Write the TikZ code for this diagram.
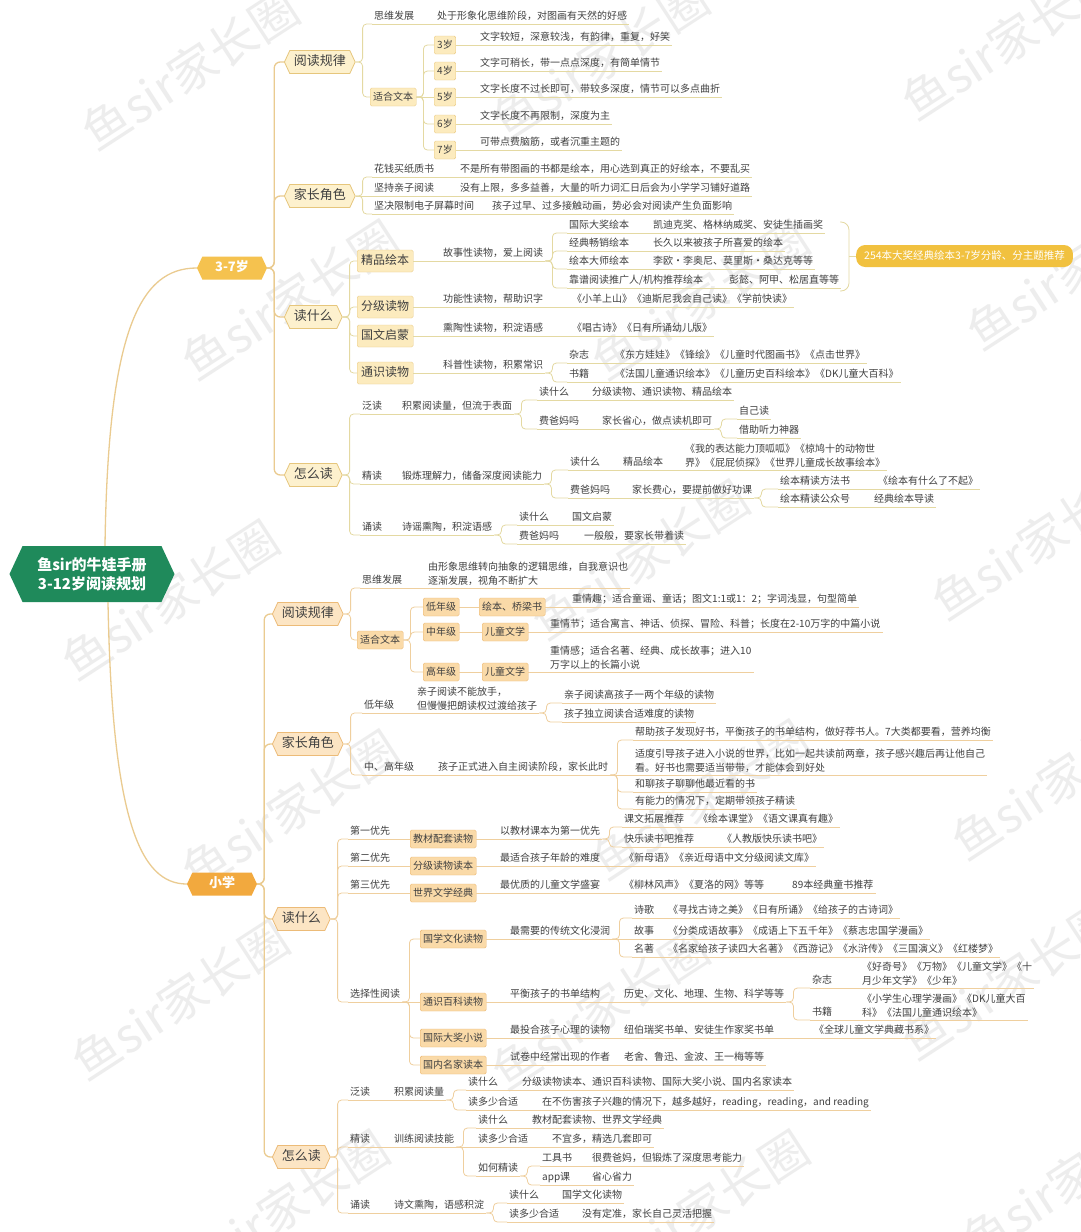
\documentclass[tikz,border=0pt]{standalone}
\usepackage{fontspec}
\newfontfamily\cjk{Noto Sans CJK SC}
\usetikzlibrary{positioning,shapes.symbols}

\definecolor{txt}{HTML}{404040}
\definecolor{rootfill}{HTML}{1F8A5B}
\definecolor{onefill}{HTML}{F5C24F}
\definecolor{xxfill}{HTML}{F2A93E}
\definecolor{summfill}{HTML}{F1C13F}
\definecolor{twofill}{HTML}{FDF1CE}
\definecolor{twoedge}{HTML}{E6C67C}
\definecolor{twofillb}{HTML}{FCE5C4}
\definecolor{twoedgeb}{HTML}{ECBB78}
\definecolor{boxfill}{HTML}{FCEBBE}
\definecolor{boxedge}{HTML}{E9C982}
\definecolor{boxfillb}{HTML}{FADAA8}
\definecolor{boxedgeb}{HTML}{EBB56C}
\definecolor{linetop}{HTML}{E4D9A2}
\definecolor{linebot}{HTML}{EFCF9E}
\definecolor{mainline}{HTML}{EACB90}
\colorlet{lc}{linetop}

\newcommand{\lk}[2]{\draw[branch] (#1) -- ++(7,0) |- (#2);}
\newcommand{\st}[2]{\draw[branch] (#1) -- (#2);}

\begin{document}
\begin{tikzpicture}[
	x=1pt, y=-1pt,
	every node/.style={font=\cjk\fontsize{10}{12}\selectfont, text=txt},
	uline/.style={draw=lc, line width=0.8pt},
	branch/.style={draw=lc, line width=0.8pt, rounded corners=4pt},
	trunk/.style={draw=mainline, line width=1.3pt, rounded corners=6pt},
	leaf/.style={anchor=south west, inner xsep=2pt, inner ysep=2pt, text height=8pt, text depth=2pt,
		append after command={(\tikzlastnode.south west) edge[uline] (\tikzlastnode.south east)}},
	leaftwo/.style={anchor=south west, inner xsep=2pt, inner ysep=2pt, align=left,
		font=\cjk\fontsize{10}{14}\selectfont,
		append after command={(\tikzlastnode.south west) edge[uline] (\tikzlastnode.south east)}},
	box/.style={draw=boxedge, fill=boxfill, rounded corners=1.5pt, anchor=west, inner xsep=3pt, inner ysep=4pt, text height=8pt, text depth=2pt},
	bigbox/.style={box, font=\cjk\fontsize{12}{14}\selectfont, inner xsep=4pt, inner ysep=5pt, text height=9.5pt, text depth=2.5pt},
	boxb/.style={box, draw=boxedgeb, fill=boxfillb},
	lvtwo/.style={signal, signal to=west and east, signal pointer angle=130, draw=twoedge, fill=twofill, line width=0.8pt, anchor=west,
		inner xsep=4pt, inner ysep=5pt, text height=10pt, text depth=3pt, font=\cjk\fontsize{13}{15}\selectfont},
	lvtwob/.style={lvtwo, draw=twoedgeb, fill=twofillb},
	lvone/.style={signal, signal to=west and east, signal pointer angle=130, text=white, inner xsep=6pt, inner ysep=5pt,
		text height=10pt, text depth=3pt, minimum width=70pt, font=\cjk\bfseries\fontsize{13}{15}\selectfont},
	rootnode/.style={signal, signal to=west and east, signal pointer angle=130, fill=rootfill, text=white, align=center,
		minimum width=165pt, minimum height=56pt, font=\cjk\bfseries\fontsize{15}{19}\selectfont},
	summ/.style={fill=summfill, rounded corners=9pt, text=white, anchor=west, inner xsep=8pt, minimum height=22pt,
		text height=8pt, text depth=2pt, font=\cjk\fontsize{10.5}{12}\selectfont},
	wmark/.style={text=black!7, rotate=33, font=\cjk\fontsize{48}{50}\selectfont}
	]
	\path[use as bounding box, fill=white] (0,0) rectangle (1080,1232);
	
	% watermark
	\foreach \x/\y [count=\i] in {190/70,600/60,1010/40,290/300,700/300,1075/270,170/600,640/560,1040/540,
		290/810,700/800,1060/780,180/1000,600/1010,1010/980,280/1210,700/1210,1070/1180}
		\node[wmark] (wm\i) at (\x,\y) {鱼sir家长圈};
	
	% root and first level
	\node[rootnode] (root) at (92,574) {鱼sir的牛娃手册\\3-12岁阅读规划};
	\node[lvone, fill=onefill] (sq) at (232,268) {3-7岁};
	\node[lvone, fill=xxfill] (xx) at (222,884) {小学};
	\draw[trunk] ([xshift=13pt]root.north) .. controls (108,330) and (140,268) .. (sq.west);
	\draw[trunk] ([xshift=16pt]root.south) .. controls (112,820) and (140,884) .. (xx.west);
	
	%%%% 3-7 years
	\node[lvtwo] (ra) at (284,62) {阅读规律};
	\node[lvtwo] (rb) at (284,196) {家长角色};
	\node[lvtwo] (rc) at (284,317) {读什么};
	\node[lvtwo] (rd) at (284,475) {怎么读};
	\draw[trunk] (sq.east) -- ++(7,0) |- (ra.west);
	\draw[trunk] (sq.east) -- ++(7,0) |- (rb.west);
	\draw[trunk] (sq.east) -- ++(7,0) |- (rc.west);
	\draw[trunk] (sq.east) -- ++(7,0) |- (rd.west);
	
	% reading rules
	\node[leaf] (ra1) at (372,24) {思维发展};
	\node[leaf] (ra1a) at (435,24) {处于形象化思维阶段，对图画有天然的好感};
	\node[box] (ra2) at (370,97) {适合文本};
	\node[box] (age3) at (434,45) {3岁};
	\node[leaf] (age3t) at (478,45) {文字较短，深意较浅，有韵律，重复，好笑};
	\node[box] (age4) at (434,71) {4岁};
	\node[leaf] (age4t) at (478,71) {文字可稍长，带一点点深度，有简单情节};
	\node[box] (age5) at (434,97) {5岁};
	\node[leaf] (age5t) at (478,97) {文字长度不过长即可，带较多深度，情节可以多点曲折};
	\node[box] (age6) at (434,124) {6岁};
	\node[leaf] (age6t) at (478,124) {文字长度不再限制，深度为主};
	\node[box] (age7) at (434,150) {7岁};
	\node[leaf] (age7t) at (478,150) {可带点费脑筋，或者沉重主题的};
	\lk{ra.east}{ra1.south west}
	\st{ra1.south east}{ra1a.south west}
	\lk{ra.east}{ra2.west}
	\lk{ra2.east}{age3.west}
	\lk{ra2.east}{age4.west}
	\st{ra2.east}{age5.west}
	\lk{ra2.east}{age6.west}
	\lk{ra2.east}{age7.west}
	\st{age3.east}{age3t.south west}
	\st{age4.east}{age4t.south west}
	\st{age5.east}{age5t.south west}
	\st{age6.east}{age6t.south west}
	\st{age7.east}{age7t.south west}
	
	% parents
	\node[leaf] (rb1) at (372,177) {花钱买纸质书};
	\node[leaf] (rb1a) at (458,177) {不是所有带图画的书都是绘本，用心选到真正的好绘本，不要乱买};
	\node[leaf] (rb2) at (372,196) {坚持亲子阅读};
	\node[leaf] (rb2a) at (458,196) {没有上限，多多益善，大量的听力词汇日后会为小学学习铺好道路};
	\node[leaf] (rb3) at (372,214) {坚决限制电子屏幕时间};
	\node[leaf] (rb3a) at (490,214) {孩子过早、过多接触动画，势必会对阅读产生负面影响};
	\lk{rb.east}{rb1.south west}
	\st{rb.east}{rb2.south west}
	\lk{rb.east}{rb3.south west}
	\st{rb1.south east}{rb1a.south west}
	\st{rb2.south east}{rb2a.south west}
	\st{rb3.south east}{rb3a.south west}
	
	% what to read
	\node[bigbox] (pb) at (357,261) {精品绘本};
	\node[bigbox] (fj) at (357,307) {分级读物};
	\node[bigbox] (gw) at (357,336) {国文启蒙};
	\node[bigbox] (ts) at (357,373) {通识读物};
	\lk{rc.east}{pb.west}
	\lk{rc.east}{fj.west}
	\lk{rc.east}{gw.west}
	\lk{rc.east}{ts.west}
	\node[leaf] (pb1) at (441,261) {故事性读物，爱上阅读};
	\node[leaf] (pb11) at (567,233) {国际大奖绘本};
	\node[leaf] (pb11a) at (651,233) {凯迪克奖、格林纳威奖、安徒生插画奖};
	\node[leaf] (pb12) at (567,251) {经典畅销绘本};
	\node[leaf] (pb12a) at (651,251) {长久以来被孩子所喜爱的绘本};
	\node[leaf] (pb13) at (567,269) {绘本大师绘本};
	\node[leaf] (pb13a) at (651,269) {李欧·李奥尼、莫里斯·桑达克等等};
	\node[leaf] (pb14) at (567,288) {靠谱阅读推广人/机构推荐绘本};
	\node[leaf] (pb14a) at (727,288) {彭懿、阿甲、松居直等等};
	\st{pb.east}{pb1.south west}
	\lk{pb1.south east}{pb11.south west}
	\lk{pb1.south east}{pb12.south west}
	\lk{pb1.south east}{pb13.south west}
	\lk{pb1.south east}{pb14.south west}
	\st{pb11.south east}{pb11a.south west}
	\st{pb12.south east}{pb12a.south west}
	\st{pb13.south east}{pb13a.south west}
	\st{pb14.south east}{pb14a.south west}
	\coordinate (brtop) at (840,222);
	\coordinate (brbot) at (840,291);
	\coordinate (brmid) at (849,256);
	\node[summ] (tip) at (856,256) {254本大奖经典绘本3-7岁分龄、分主题推荐};
	\draw[branch, rounded corners=8pt] (brtop) -| (brmid) |- (brbot);
	\draw[branch] (brmid) -- (tip.west);
	
	\node[leaf] (fj1) at (441,307) {功能性读物，帮助识字};
	\node[leaf] (fj1a) at (570,307) {《小羊上山》《迪斯尼我会自己读》《学前快读》};
	\node[leaf] (gw1) at (441,336) {熏陶性读物，积淀语感};
	\node[leaf] (gw1a) at (570,336) {《唱古诗》《日有所诵幼儿版》};
	\node[leaf] (ts1) at (441,373) {科普性读物，积累常识};
	\node[leaf] (ts11) at (567,363) {杂志};
	\node[leaf] (ts11a) at (613,363) {《东方娃娃》《锋绘》《儿童时代图画书》《点击世界》};
	\node[leaf] (ts12) at (567,382) {书籍};
	\node[leaf] (ts12a) at (613,382) {《法国儿童通识绘本》《儿童历史百科绘本》《DK儿童大百科》};
	\st{fj.east}{fj1.south west}
	\st{fj1.south east}{fj1a.south west}
	\st{gw.east}{gw1.south west}
	\st{gw1.south east}{gw1a.south west}
	\st{ts.east}{ts1.south west}
	\lk{ts1.south east}{ts11.south west}
	\lk{ts1.south east}{ts12.south west}
	\st{ts11.south east}{ts11a.south west}
	\st{ts12.south east}{ts12a.south west}
	
	% how to read
	\node[leaf] (fd) at (360,414) {泛读};
	\node[leaf] (fd1) at (400,414) {积累阅读量，但流于表面};
	\node[leaf] (fd11) at (537,400) {读什么};
	\node[leaf] (fd11a) at (590,400) {分级读物、通识读物、精品绘本};
	\node[leaf] (fd12) at (537,429) {费爸妈吗};
	\node[leaf] (fd12a) at (600,429) {家长省心，做点读机即可};
	\node[leaf] (fd121) at (737,419) {自己读};
	\node[leaf] (fd122) at (737,438) {借助听力神器};
	\node[leaf] (jd) at (360,484) {精读};
	\node[leaf] (jd1) at (400,484) {锻炼理解力，储备深度阅读能力};
	\node[leaf] (jd11) at (568,470) {读什么};
	\node[leaf] (jd11a) at (621,470) {精品绘本};
	\node[leaftwo] (jd11b) at (683,470) {《我的表达能力顶呱呱》《椋鸠十的动物世\\界》《屁屁侦探》《世界儿童成长故事绘本》};
	\node[leaf] (jd12) at (568,498) {费爸妈吗};
	\node[leaf] (jd12a) at (630,498) {家长费心，要提前做好功课};
	\node[leaf] (jd121) at (778,489) {绘本精读方法书};
	\node[leaf] (jd121a) at (876,489) {《绘本有什么了不起》};
	\node[leaf] (jd122) at (778,507) {绘本精读公众号};
	\node[leaf] (jd122a) at (872,507) {经典绘本导读};
	\node[leaf] (sd) at (360,535) {诵读};
	\node[leaf] (sd1) at (400,535) {诗谣熏陶，积淀语感};
	\node[leaf] (sd11) at (517,525) {读什么};
	\node[leaf] (sd11a) at (570,525) {国文启蒙};
	\node[leaf] (sd12) at (517,544) {费爸妈吗};
	\node[leaf] (sd12a) at (582,544) {一般般，要家长带着读};
	\lk{rd.east}{fd.south west}
	\lk{rd.east}{jd.south west}
	\lk{rd.east}{sd.south west}
	\st{fd.south east}{fd1.south west}
	\lk{fd1.south east}{fd11.south west}
	\lk{fd1.south east}{fd12.south west}
	\st{fd11.south east}{fd11a.south west}
	\st{fd12.south east}{fd12a.south west}
	\lk{fd12a.south east}{fd121.south west}
	\lk{fd12a.south east}{fd122.south west}
	\st{jd.south east}{jd1.south west}
	\lk{jd1.south east}{jd11.south west}
	\lk{jd1.south east}{jd12.south west}
	\st{jd11.south east}{jd11a.south west}
	\st{jd11a.south east}{jd11b.south west}
	\st{jd12.south east}{jd12a.south west}
	\lk{jd12a.south east}{jd121.south west}
	\lk{jd12a.south east}{jd122.south west}
	\st{jd121.south east}{jd121a.south west}
	\st{jd122.south east}{jd122a.south west}
	\st{sd.south east}{sd1.south west}
	\lk{sd1.south east}{sd11.south west}
	\lk{sd1.south east}{sd12.south west}
	\st{sd11.south east}{sd11a.south west}
	\st{sd12.south east}{sd12a.south west}
	
	%%%% primary school
	\colorlet{lc}{linebot}
	\node[lvtwob] (ua) at (272,614) {阅读规律};
	\node[lvtwob] (ub) at (272,744) {家长角色};
	\node[lvtwob] (uc) at (272,919) {读什么};
	\node[lvtwob] (ud) at (272,1157) {怎么读};
	\draw[trunk] (xx.east) -- ++(7,0) |- (ua.west);
	\draw[trunk] (xx.east) -- ++(7,0) |- (ub.west);
	\draw[trunk] (xx.east) -- ++(7,0) |- (uc.west);
	\draw[trunk] (xx.east) -- ++(7,0) |- (ud.west);
	
	% reading rules
	\node[leaf] (ua1) at (360,588) {思维发展};
	\node[leaftwo] (ua1a) at (426,588) {由形象思维转向抽象的逻辑思维，自我意识也\\逐渐发展，视角不断扩大};
	\node[boxb] (ua2) at (357,640) {适合文本};
	\node[boxb] (dn) at (423,607) {低年级};
	\node[boxb] (dn1) at (479,607) {绘本、桥梁书};
	\node[leaf] (dn2) at (570,607) {重情趣；适合童谣、童话；图文1:1或1：2；字词浅显，句型简单};
	\node[boxb] (zn) at (423,632) {中年级};
	\node[boxb] (zn1) at (482,632) {儿童文学};
	\node[leaf] (zn2) at (548,632) {重情节；适合寓言、神话、侦探、冒险、科普；长度在2-10万字的中篇小说};
	\node[boxb] (gn) at (423,672) {高年级};
	\node[boxb] (gn1) at (482,672) {儿童文学};
	\node[leaftwo] (gn2) at (548,672) {重情感；适合名著、经典、成长故事；进入10\\万字以上的长篇小说};
	\lk{ua.east}{ua1.south west}
	\st{ua1.south east}{ua1a.south west}
	\lk{ua.east}{ua2.west}
	\lk{ua2.east}{dn.west}
	\lk{ua2.east}{zn.west}
	\lk{ua2.east}{gn.west}
	\st{dn.east}{dn1.west}
	\st{dn1.east}{dn2.south west}
	\st{zn.east}{zn1.west}
	\st{zn1.east}{zn2.south west}
	\st{gn.east}{gn1.west}
	\st{gn1.east}{gn2.south west}
	
	% parents
	\node[leaf] (ub1) at (362,713) {低年级};
	\node[leaftwo] (ub1a) at (415,713) {亲子阅读不能放手，\\但慢慢把朗读权过渡给孩子};
	\node[leaf] (ub11) at (562,703) {亲子阅读高孩子一两个年级的读物};
	\node[leaf] (ub12) at (562,722) {孩子独立阅读合适难度的读物};
	\node[leaf] (ub2) at (362,775) {中、高年级};
	\node[leaf] (ub2a) at (436,775) {孩子正式进入自主阅读阶段，家长此时};
	\node[leaf] (ub21) at (633,740) {帮助孩子发现好书，平衡孩子的书单结构，做好荐书人。7大类都要看，营养均衡};
	\node[leaftwo] (ub22) at (633,775) {适度引导孩子进入小说的世界，比如一起共读前两章，孩子感兴趣后再让他自己\\看。好书也需要适当带带，才能体会到好处};
	\node[leaf] (ub23) at (633,792) {和聊孩子聊聊他最近看的书};
	\node[leaf] (ub24) at (633,809) {有能力的情况下，定期带领孩子精读};
	\lk{ub.east}{ub1.south west}
	\lk{ub.east}{ub2.south west}
	\st{ub1.south east}{ub1a.south west}
	\lk{ub1a.south east}{ub11.south west}
	\lk{ub1a.south east}{ub12.south west}
	\st{ub2.south east}{ub2a.south west}
	\lk{ub2a.south east}{ub21.south west}
	\st{ub2a.south east}{ub22.south west}
	\lk{ub2a.south east}{ub23.south west}
	\lk{ub2a.south east}{ub24.south west}
	
	% what to read
	\node[leaf] (p1) at (348,839) {第一优先};
	\node[boxb] (p1b) at (410,839) {教材配套读物};
	\node[leaf] (p1c) at (498,839) {以教材课本为第一优先};
	\node[leaf] (p1d) at (622,827) {课文拓展推荐};
	\node[leaf] (p1da) at (696,827) {《绘本课堂》《语文课真有趣》};
	\node[leaf] (p1e) at (622,847) {快乐读书吧推荐};
	\node[leaf] (p1ea) at (720,847) {《人教版快乐读书吧》};
	\node[leaf] (p2) at (348,866) {第二优先};
	\node[boxb] (p2b) at (410,866) {分级读物读本};
	\node[leaf] (p2c) at (498,866) {最适合孩子年龄的难度};
	\node[leaf] (p2d) at (622,866) {《新母语》《亲近母语中文分级阅读文库》};
	\node[leaf] (p3) at (348,893) {第三优先};
	\node[boxb] (p3b) at (410,893) {世界文学经典};
	\node[leaf] (p3c) at (498,893) {最优质的儿童文学盛宴};
	\node[leaf] (p3d) at (622,893) {《柳林风声》《夏洛的网》等等};
	\node[leaf] (p3e) at (790,893) {89本经典童书推荐};
	\node[leaf] (p4) at (348,1002) {选择性阅读};
	\lk{uc.east}{p1.south west}
	\lk{uc.east}{p2.south west}
	\lk{uc.east}{p3.south west}
	\lk{uc.east}{p4.south west}
	\st{p1.south east}{p1b.west}
	\st{p1b.east}{p1c.south west}
	\lk{p1c.south east}{p1d.south west}
	\lk{p1c.south east}{p1e.south west}
	\st{p1d.south east}{p1da.south west}
	\st{p1e.south east}{p1ea.south west}
	\st{p2.south east}{p2b.west}
	\st{p2b.east}{p2c.south west}
	\st{p2c.south east}{p2d.south west}
	\st{p3.south east}{p3b.west}
	\st{p3b.east}{p3c.south west}
	\st{p3c.south east}{p3d.south west}
	\st{p3d.south east}{p3e.south west}
	
	\node[boxb] (gx) at (420,939) {国学文化读物};
	\node[leaf] (gx1) at (508,939) {最需要的传统文化浸润};
	\node[leaf] (gx11) at (632,918) {诗歌};
	\node[leaf] (gx11a) at (666,918) {《寻找古诗之美》《日有所诵》《给孩子的古诗词》};
	\node[leaf] (gx12) at (632,939) {故事};
	\node[leaf] (gx12a) at (666,939) {《分类成语故事》《成语上下五千年》《蔡志忠国学漫画》};
	\node[leaf] (gx13) at (632,957) {名著};
	\node[leaf] (gx13a) at (666,957) {《名家给孩子读四大名著》《西游记》《水浒传》《三国演义》《红楼梦》};
	\node[boxb] (ty) at (420,1002) {通识百科读物};
	\node[leaf] (ty1) at (508,1002) {平衡孩子的书单结构};
	\node[leaf] (ty2) at (622,1002) {历史、文化、地理、生物、科学等等};
	\node[leaf] (ty21) at (810,988) {杂志};
	\node[leaftwo] (ty21a) at (860,988) {《好奇号》《万物》《儿童文学》《十\\月少年文学》《少年》};
	\node[leaf] (ty22) at (810,1020) {书籍};
	\node[leaftwo] (ty22a) at (860,1020) {《小学生心理学漫画》《DK儿童大百\\科》《法国儿童通识绘本》};
	\node[boxb] (gj) at (420,1038) {国际大奖小说};
	\node[leaf] (gj1) at (508,1038) {最投合孩子心理的读物};
	\node[leaf] (gj2) at (622,1038) {纽伯瑞奖书单、安徒生作家奖书单};
	\node[leaf] (gj3) at (812,1038) {《全球儿童文学典藏书系》};
	\node[boxb] (mj) at (420,1065) {国内名家读本};
	\node[leaf] (mj1) at (508,1065) {试卷中经常出现的作者};
	\node[leaf] (mj2) at (622,1065) {老舍、鲁迅、金波、王一梅等等};
	\lk{p4.south east}{gx.west}
	\st{p4.south east}{ty.west}
	\lk{p4.south east}{gj.west}
	\lk{p4.south east}{mj.west}
	\st{gx.east}{gx1.south west}
	\lk{gx1.south east}{gx11.south west}
	\st{gx1.south east}{gx12.south west}
	\lk{gx1.south east}{gx13.south west}
	\st{gx11.south east}{gx11a.south west}
	\st{gx12.south east}{gx12a.south west}
	\st{gx13.south east}{gx13a.south west}
	\st{ty.east}{ty1.south west}
	\st{ty1.south east}{ty2.south west}
	\lk{ty2.south east}{ty21.south west}
	\lk{ty2.south east}{ty22.south west}
	\st{ty21.south east}{ty21a.south west}
	\st{ty22.south east}{ty22a.south west}
	\st{gj.east}{gj1.south west}
	\st{gj1.south east}{gj2.south west}
	\st{gj2.south east}{gj3.south west}
	\st{mj.east}{mj1.south west}
	\st{mj1.south east}{mj2.south west}
	
	% how to read
	\node[leaf] (ud1) at (348,1100) {泛读};
	\node[leaf] (ud1a) at (392,1100) {积累阅读量};
	\node[leaf] (ud11) at (466,1090) {读什么};
	\node[leaf] (ud11a) at (520,1090) {分级读物读本、通识百科读物、国际大奖小说、国内名家读本};
	\node[leaf] (ud12) at (466,1110) {读多少合适};
	\node[leaf] (ud12a) at (540,1110) {在不伤害孩子兴趣的情况下，越多越好，reading，reading，and reading};
	\node[leaf] (ud2) at (348,1147) {精读};
	\node[leaf] (ud2a) at (392,1147) {训练阅读技能};
	\node[leaf] (ud21) at (476,1128) {读什么};
	\node[leaf] (ud21a) at (530,1128) {教材配套读物、世界文学经典};
	\node[leaf] (ud22) at (476,1147) {读多少合适};
	\node[leaf] (ud22a) at (550,1147) {不宜多，精选几套即可};
	\node[leaf] (ud23) at (476,1176) {如何精读};
	\node[leaf] (ud231) at (540,1166) {工具书};
	\node[leaf] (ud231a) at (590,1166) {很费爸妈，但锻炼了深度思考能力};
	\node[leaf] (ud232) at (540,1185) {app课};
	\node[leaf] (ud232a) at (590,1185) {省心省力};
	\node[leaf] (ud3) at (348,1213) {诵读};
	\node[leaf] (ud3a) at (392,1213) {诗文熏陶，语感积淀};
	\node[leaf] (ud31) at (507,1203) {读什么};
	\node[leaf] (ud31a) at (560,1203) {国学文化读物};
	\node[leaf] (ud32) at (507,1222) {读多少合适};
	\node[leaf] (ud32a) at (580,1222) {没有定准，家长自己灵活把握};
	\lk{ud.east}{ud1.south west}
	\lk{ud.east}{ud2.south west}
	\lk{ud.east}{ud3.south west}
	\st{ud1.south east}{ud1a.south west}
	\lk{ud1a.south east}{ud11.south west}
	\lk{ud1a.south east}{ud12.south west}
	\st{ud11.south east}{ud11a.south west}
	\st{ud12.south east}{ud12a.south west}
	\st{ud2.south east}{ud2a.south west}
	\lk{ud2a.south east}{ud21.south west}
	\st{ud2a.south east}{ud22.south west}
	\lk{ud2a.south east}{ud23.south west}
	\st{ud21.south east}{ud21a.south west}
	\st{ud22.south east}{ud22a.south west}
	\lk{ud23.south east}{ud231.south west}
	\lk{ud23.south east}{ud232.south west}
	\st{ud231.south east}{ud231a.south west}
	\st{ud232.south east}{ud232a.south west}
	\st{ud3.south east}{ud3a.south west}
	\lk{ud3a.south east}{ud31.south west}
	\lk{ud3a.south east}{ud32.south west}
	\st{ud31.south east}{ud31a.south west}
	\st{ud32.south east}{ud32a.south west}
	
\end{tikzpicture}
\end{document}
